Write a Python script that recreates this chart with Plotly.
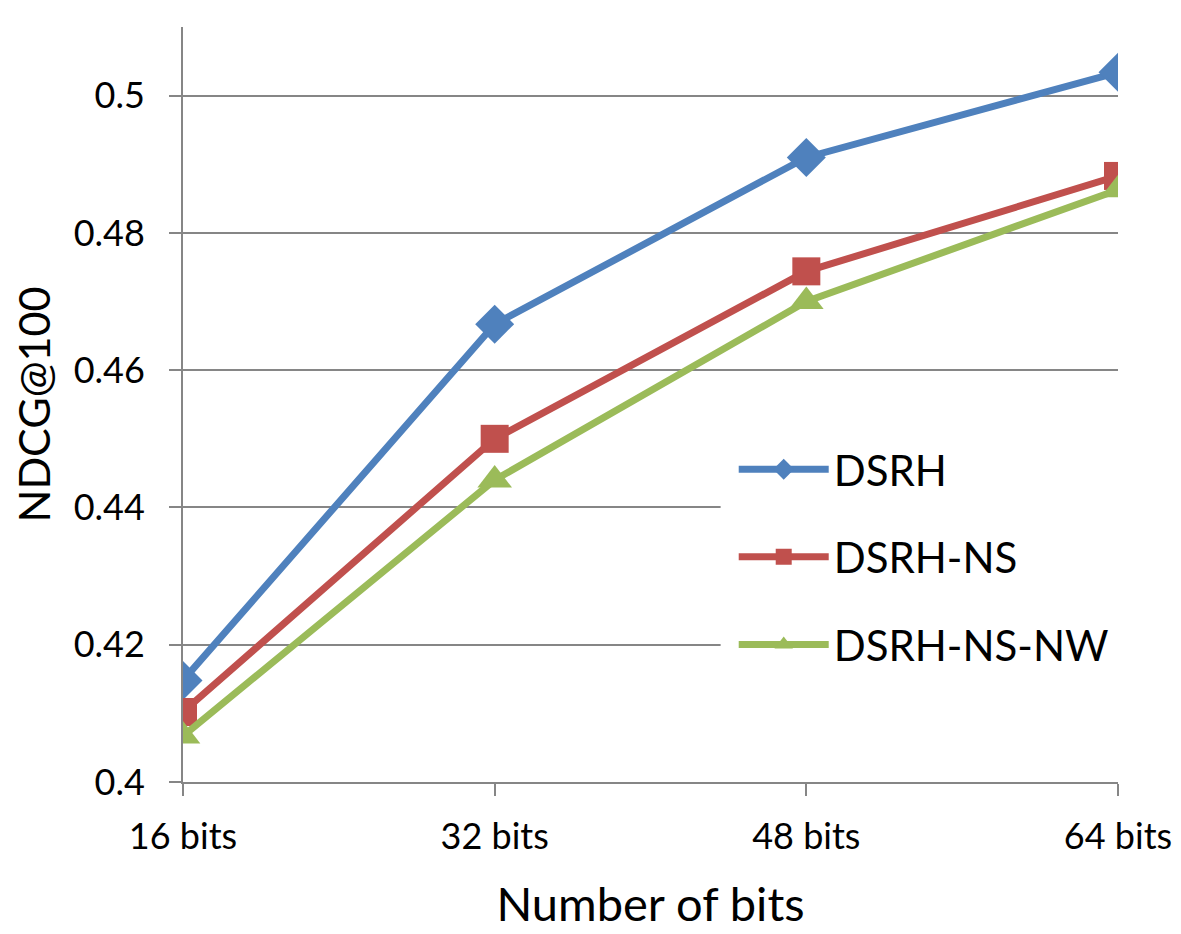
import plotly.graph_objects as go

categories = ["16 bits", "32 bits", "48 bits", "64 bits"]
dsrh = [0.4148, 0.4667, 0.4910, 0.5034]
dsrh_ns = [0.4102, 0.4500, 0.4744, 0.4883]
dsrh_ns_nw = [0.4067, 0.4440, 0.4700, 0.4863]
y_ticks = [0.4, 0.42, 0.44, 0.46, 0.48, 0.5]
y_labels = ["0.4", "0.42", "0.44", "0.46", "0.48", "0.5"]

FONT = "Lato"
GRID = "#868686"
fig = go.Figure()
series = [
    ("DSRH", dsrh, "#4F81BD", "diamond", 30),
    ("DSRH-NS", dsrh_ns, "#C0504D", "square", 28),
    ("DSRH-NS-NW", dsrh_ns_nw, "#9BBB59", "triangle-up", 30),
]
for name, vals, col, sym, sz in series:
    fig.add_trace(go.Scatter(
        x=categories, y=vals, name=name, mode="lines+markers",
        legendgroup=name,
        line=dict(color=col, width=7),
        marker=dict(symbol=sym, size=sz, color=col, line=dict(width=0)),
    ))

# white backing behind legend area (covers gridlines like the original)
fig.add_shape(type="rect", xref="paper", yref="paper",
              x0=0.575, x1=1.0, y0=0.11, y1=0.475,
              fillcolor="white", line=dict(width=0), layer="above")

fig.update_layout(
    width=1181, height=934,
    margin=dict(l=175, r=71, t=19, b=160),
    paper_bgcolor="white", plot_bgcolor="white",
    font=dict(family=FONT, color="black"),
    showlegend=True,
    legend=dict(
        x=0.589, y=0.459, xanchor="left", yanchor="top",
        bgcolor="white", font=dict(size=42, family=FONT),
        tracegroupgap=30, itemsizing="trace", itemwidth=90,
    ),
    xaxis=dict(
        type="category", range=[0, 3],
        showgrid=False, showline=True, linecolor=GRID, linewidth=2,
        ticks="outside", ticklen=12, tickwidth=2, tickcolor=GRID,
        ticklabelstandoff=10,
        tickfont=dict(size=36, family=FONT), zeroline=False,
        title=dict(text="Number of bits", font=dict(size=47, family=FONT), standoff=32),
    ),
    yaxis=dict(
        range=[0.4, 0.51], tickvals=y_ticks, ticktext=y_labels,
        showgrid=True, gridcolor=GRID, gridwidth=2,
        showline=True, linecolor=GRID, linewidth=2,
        ticks="outside", ticklen=12, tickwidth=2, tickcolor=GRID,
        ticklabelstandoff=17,
        tickfont=dict(size=36, family=FONT), zeroline=False,
        title=dict(text="NDCG@100", font=dict(size=43, family=FONT), standoff=24),
    ),
)

fig.write_html("out.html")
